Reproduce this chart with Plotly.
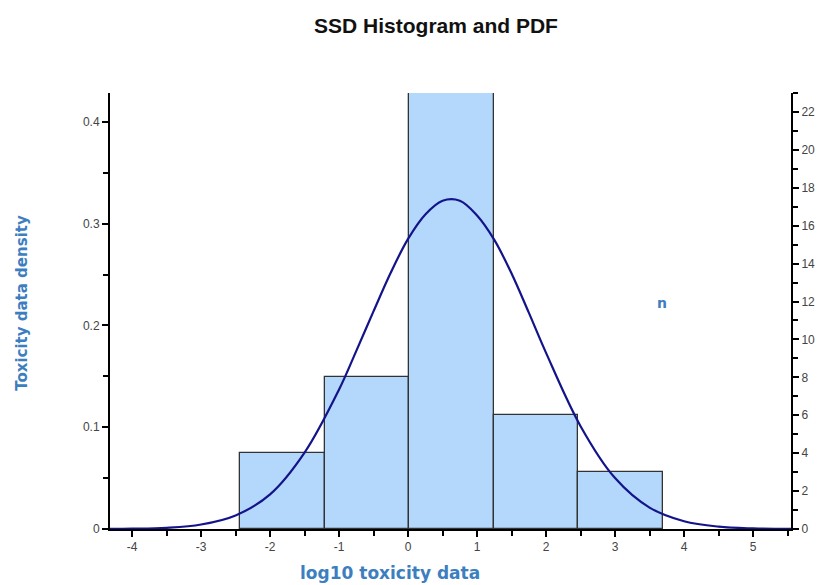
import plotly.graph_objects as go

# Histogram data (counts per bin) and bin edges in log10 units
bin_edges = [-2.43, -1.205, 0.02, 1.246, 2.47, 3.696]
counts = [4, 8, 23, 6, 3]

# PDF curve points (density axis)
pdf_x = [-4.32, -4.0, -3.5, -3.0, -2.5, -2.0, -1.5, -1.0, -0.75, -0.5, -0.25, 0.0,
         0.25, 0.5, 0.75, 1.0, 1.25, 1.5, 1.75, 2.0, 2.5, 3.0, 3.5, 4.0, 4.5, 5.0, 5.55]
pdf_y = [0.0001, 0.0003, 0.0012, 0.0044, 0.0133, 0.034, 0.075, 0.137, 0.175, 0.214,
         0.252, 0.285, 0.309, 0.3225, 0.3225, 0.308, 0.284, 0.251, 0.2125, 0.173,
         0.101, 0.050, 0.021, 0.0076, 0.0023, 0.0006, 0.0001]

x_ticks = [-4, -3, -2, -1, 0, 1, 2, 3, 4, 5]
x_labels = ["-4", "-3", "-2", "-1", "0", "1", "2", "3", "4", "5"]
density_ticks = [0, 0.1, 0.2, 0.3, 0.4]
density_labels = ["0", "0.1", "0.2", "0.3", "0.4"]
count_ticks = [0, 2, 4, 6, 8, 10, 12, 14, 16, 18, 20, 22]

centers = [(a + b) / 2 for a, b in zip(bin_edges[:-1], bin_edges[1:])]
widths = [b - a for a, b in zip(bin_edges[:-1], bin_edges[1:])]

BLUE = "#3d7ebf"
FONT = "Liberation Sans, Arial, sans-serif"
TFONT = "DejaVu Sans, Verdana, sans-serif"

fig = go.Figure()
# bars on the count axis (right side)
fig.add_trace(go.Bar(
    x=centers, y=counts, width=widths, yaxis="y",
    marker=dict(color="#b3d8fb", line=dict(color="#333333", width=1.3)),
    hoverinfo="skip", showlegend=False,
))
# PDF curve on the density axis (left side), drawn above the bars
fig.add_trace(go.Scatter(
    x=pdf_x, y=pdf_y, mode="lines", yaxis="y2",
    line=dict(color="#14148a", width=2.2, shape="spline", smoothing=1.0),
    hoverinfo="skip", showlegend=False,
))

tickfont = dict(family=FONT, size=12, color="#444444")
axis_common = dict(ticks="outside", ticklen=6, tickwidth=2, tickcolor="black",
                   showline=True, linewidth=2, linecolor="black", automargin=False,
                   showgrid=False, zeroline=False, tickfont=tickfont)

fig.update_layout(
    width=820, height=585,
    margin=dict(l=110, r=29, t=93, b=56, pad=0),
    paper_bgcolor="white", plot_bgcolor="white",
    bargap=0,
    title=dict(text="<b>SSD Histogram and PDF</b>", x=0.5317, xanchor="center",
               y=0.957, yanchor="middle",
               font=dict(family=FONT, size=21, color="#111111")),
    xaxis=dict(range=[-4.32, 5.55], tickvals=x_ticks, ticktext=x_labels,
               minor=dict(dtick=0.5, tick0=0, ticks="outside", ticklen=5, tickwidth=2,
                          tickcolor="black", showgrid=False),
               **axis_common),
    yaxis=dict(range=[0, 23], side="right", tickvals=count_ticks,
               minor=dict(dtick=1, tick0=0, ticks="outside", ticklen=5, tickwidth=2,
                          tickcolor="black", showgrid=False),
               **axis_common),
    yaxis2=dict(range=[0, 0.4283], overlaying="y", side="left",
                tickvals=density_ticks, ticktext=density_labels,
                minor=dict(dtick=0.05, tick0=0, ticks="outside", ticklen=5, tickwidth=2,
                           tickcolor="black", showgrid=False),
                **axis_common),
    annotations=[
        dict(text="<b>Toxicity data density</b>", xref="paper", yref="paper",
             x=-0.1297, y=0.518, xanchor="center", yanchor="middle", textangle=-90,
             showarrow=False, font=dict(family=TFONT, size=15, color=BLUE)),
        dict(text="<b>log10 toxicity data</b>", xref="paper", yref="paper",
             x=0.411, y=-0.101, xanchor="center", yanchor="middle",
             showarrow=False, font=dict(family=TFONT, size=17, color=BLUE)),
        dict(text="<b>n</b>", xref="paper", yref="paper",
             x=0.8106, y=0.518, xanchor="center", yanchor="middle",
             showarrow=False, font=dict(family=TFONT, size=14, color=BLUE)),
    ],
)

fig.write_html("out.html", config={"displayModeBar": False},
               post_script="document.body.style.margin='0';")
